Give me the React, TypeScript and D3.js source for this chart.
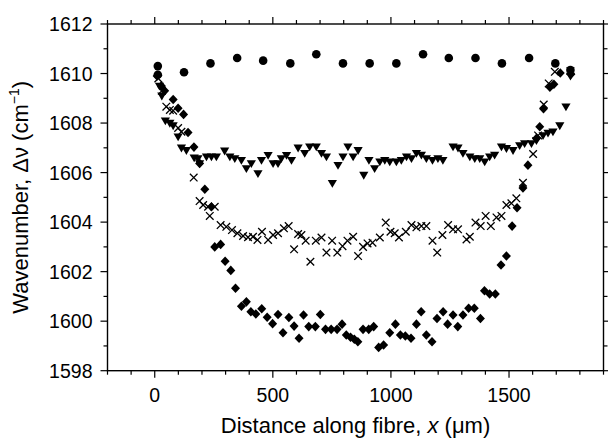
import React, { useEffect } from "react";
import * as d3 from "d3";

// ---- data (x in µm, Δν in cm^-1) ----
const circlePts: [number, number][] = [
  [13, 1610.3], [13, 1609.95], [124, 1610.05], [236, 1610.41], [349, 1610.63],
  [459, 1610.52], [574, 1610.41], [684, 1610.78], [797, 1610.41], [910, 1610.41],
  [1023, 1610.41], [1136, 1610.78], [1245, 1610.63], [1358, 1610.63], [1470, 1610.41],
  [1585, 1610.63], [1696, 1610.41], [1760, 1610.14],
];

const trianglePts: [number, number][] = [
  [20, 1609.5], [30, 1609.1], [45, 1608.1], [64, 1608.0], [78, 1607.9], [99, 1607.45],
  [113, 1607.0], [134, 1606.9], [167, 1606.6], [183, 1606.57], [190, 1606.37], [219, 1606.64],
  [240, 1606.64], [261, 1606.64], [296, 1606.88], [318, 1606.64], [339, 1606.57], [367, 1606.5],
  [388, 1606.17], [409, 1606.37], [437, 1605.97], [452, 1606.5], [480, 1606.7], [501, 1606.37],
  [522, 1606.37], [536, 1606.57], [558, 1606.7], [579, 1606.5], [607, 1607.0], [635, 1606.78],
  [656, 1607.05], [684, 1607.05], [706, 1606.78], [727, 1606.64], [752, 1605.57], [776, 1606.3],
  [797, 1606.64], [818, 1607.05], [840, 1606.64], [861, 1606.9], [885, 1605.9], [907, 1606.5],
  [931, 1606.17], [953, 1606.44], [974, 1606.5], [995, 1606.44], [1023, 1606.44], [1044, 1606.5],
  [1066, 1606.64], [1087, 1606.57], [1108, 1606.78], [1129, 1606.71], [1150, 1606.57], [1176, 1606.5],
  [1199, 1606.57], [1220, 1606.5], [1263, 1607.05], [1284, 1607.0], [1305, 1606.78], [1334, 1606.64],
  [1355, 1606.57], [1376, 1606.57], [1397, 1606.44], [1418, 1606.64], [1439, 1606.71], [1468, 1607.05],
  [1489, 1606.98], [1517, 1606.9], [1545, 1607.1], [1566, 1607.18], [1595, 1607.18], [1616, 1607.3],
  [1644, 1607.5], [1665, 1607.6], [1686, 1607.65], [1715, 1607.9], [1741, 1608.66], [1760, 1609.9],
];

const crossPts: [number, number][] = [
  [15, 1609.8], [30, 1609.3], [49, 1608.66], [64, 1608.53], [78, 1608.5], [99, 1607.8],
  [113, 1607.65], [165, 1605.8], [190, 1604.85], [205, 1604.69], [226, 1604.62], [233, 1604.25],
  [254, 1604.62], [279, 1603.88], [303, 1603.81], [327, 1603.68], [350, 1603.55], [374, 1603.44],
  [395, 1603.39], [416, 1603.41], [435, 1603.28], [454, 1603.61], [480, 1603.28], [501, 1603.48],
  [522, 1603.55], [547, 1603.75], [567, 1603.84], [590, 1602.9], [607, 1603.52], [621, 1603.48],
  [639, 1603.25], [659, 1602.4], [682, 1603.25], [706, 1603.38], [727, 1602.77], [751, 1603.25],
  [773, 1602.77], [795, 1603.03], [816, 1603.25], [840, 1603.41], [861, 1602.63], [882, 1603.0],
  [901, 1603.14], [922, 1603.17], [953, 1603.38], [978, 1603.98], [998, 1603.61], [1016, 1603.55],
  [1034, 1603.38], [1063, 1603.61], [1087, 1603.88], [1108, 1603.79], [1129, 1603.84], [1150, 1603.84],
  [1176, 1603.25], [1196, 1602.77], [1218, 1603.48], [1242, 1603.88], [1263, 1603.71], [1284, 1603.71],
  [1320, 1603.3], [1334, 1603.41], [1358, 1603.98], [1380, 1603.84], [1401, 1604.25], [1423, 1603.84],
  [1447, 1604.19], [1468, 1604.25], [1489, 1604.69], [1510, 1604.76], [1531, 1604.96], [1559, 1605.59],
  [1602, 1606.75], [1623, 1607.5], [1647, 1608.75], [1668, 1609.6], [1694, 1610.07], [1760, 1610.1],
];

const diamondPts: [number, number][] = [
  [10, 1609.9], [28, 1609.5], [42, 1609.3], [78, 1608.95], [99, 1608.6], [122, 1608.35],
  [141, 1607.62], [166, 1607.03], [190, 1606.37], [212, 1605.33], [240, 1604.62], [254, 1603.0],
  [279, 1603.1], [298, 1602.42], [322, 1602.05], [342, 1601.33], [367, 1600.6], [388, 1600.78],
  [407, 1600.38], [428, 1600.29], [453, 1600.5], [476, 1600.16], [499, 1599.9], [522, 1600.27],
  [543, 1599.53], [568, 1600.15], [590, 1599.8], [611, 1599.31], [630, 1600.25], [652, 1599.78],
  [680, 1599.78], [701, 1600.27], [723, 1599.67], [747, 1599.67], [772, 1599.67], [793, 1599.88],
  [811, 1599.44], [829, 1599.35], [845, 1599.27], [860, 1599.17], [882, 1599.67], [906, 1599.67],
  [927, 1599.78], [948, 1598.94], [969, 1599.04], [995, 1599.53], [1019, 1599.88], [1040, 1599.44],
  [1061, 1599.4], [1085, 1599.31], [1108, 1599.88], [1128, 1600.38], [1150, 1599.44], [1174, 1599.17],
  [1195, 1600.11], [1221, 1600.38], [1240, 1599.88], [1263, 1600.25], [1283, 1599.78], [1305, 1600.25],
  [1329, 1600.52], [1353, 1600.52], [1379, 1600.11], [1396, 1601.23], [1418, 1601.1], [1442, 1601.1],
  [1466, 1602.27], [1489, 1602.63], [1513, 1603.84], [1534, 1604.58], [1559, 1605.38], [1580, 1606.3],
  [1616, 1607.38], [1630, 1607.85], [1646, 1608.58], [1673, 1609.45], [1690, 1609.57], [1717, 1610.02],
  [1762, 1609.97],
];

const xDomain: [number, number] = [-200, 1900];
const yDomain: [number, number] = [1598, 1612];
const xTickLabels = [0, 500, 1000, 1500];
const yTickLabels = [1598, 1600, 1602, 1604, 1606, 1608, 1610, 1612];

const W = 608, H = 438;
const L = 107.5, R = 603.5, T = 24, B = 370.7;
const FONT = "'Liberation Sans', Arial, Helvetica, sans-serif";

export default function App() {
  useEffect(() => {
    document.body.style.margin = "0";
  }, []);
  const x = d3.scaleLinear().domain(xDomain).range([L, R]);
  const y = d3.scaleLinear().domain(yDomain).range([B, T]);

  const xMinor = d3.range(xDomain[0], xDomain[1] + 1, 100);
  const yMinor = d3.range(yDomain[0], yDomain[1] + 0.5, 1);
  const isXMajor = (v: number) => v % 500 === 0;
  const isYMajor = (v: number) => v % 2 === 0;
  const MJ = 7, MN = 4;

  const tri = "M-4.6,-3.2L4.6,-3.2L0,4.6Z";
  const dia = "M0,-4.8L4.5,0L0,4.8L-4.5,0Z";

  return (
    <svg width={W} height={H} style={{ position: "absolute", left: 0, top: 0, background: "#fff" }}>
      <rect width={W} height={H} fill="#fff" />
      {/* frame */}
      <rect x={L} y={T} width={R - L} height={B - T} fill="none" stroke="#000" strokeWidth={1.4} />
      {/* x ticks bottom + top */}
      {xMinor.map((v) => {
        const len = isXMajor(v) ? MJ : MN;
        return (
          <g key={"xt" + v} stroke="#000" strokeWidth={1.2}>
            <line x1={x(v)} x2={x(v)} y1={B} y2={B + len} />
            <line x1={x(v)} x2={x(v)} y1={T} y2={T - len} />
          </g>
        );
      })}
      {/* y ticks left + right */}
      {yMinor.map((v) => {
        const len = isYMajor(v) ? MJ : MN;
        return (
          <g key={"yt" + v} stroke="#000" strokeWidth={1.2}>
            <line x1={L} x2={L - len} y1={y(v)} y2={y(v)} />
            <line x1={R} x2={R + len} y1={y(v)} y2={y(v)} />
          </g>
        );
      })}
      {xTickLabels.map((v) => (
        <text key={"xl" + v} x={x(v)} y={401.5} textAnchor="middle" fontFamily={FONT} fontSize={19.5} fill="#000">
          {v}
        </text>
      ))}
      {yTickLabels.map((v) => (
        <text key={"yl" + v} x={92.5} y={y(v) + 7} textAnchor="end" fontFamily={FONT} fontSize={19.5} fill="#000">
          {v}
        </text>
      ))}
      {/* axis titles */}
      <text x={(L + R) / 2} y={433} textAnchor="middle" fontFamily={FONT} fontSize={22} fill="#000">
        Distance along fibre, <tspan fontStyle="italic">x</tspan> (μm)
      </text>
      <text
        transform={`translate(28,${(T + B) / 2}) rotate(-90)`}
        textAnchor="middle"
        fontFamily={FONT}
        fontSize={22}
        fill="#000"
      >
        Wavenumber, Δν (cm
        <tspan fontSize={14} dy={-9}>−1</tspan>
        <tspan dy={9}>)</tspan>
      </text>
      {/* series */}
      <g fill="#000">
        {circlePts.map(([a, b], i) => (
          <circle key={"c" + i} cx={x(a)} cy={y(b)} r={4.3} />
        ))}
        {trianglePts.map(([a, b], i) => (
          <path key={"t" + i} d={tri} transform={`translate(${x(a)},${y(b)})`} />
        ))}
        {diamondPts.map(([a, b], i) => (
          <path key={"d" + i} d={dia} transform={`translate(${x(a)},${y(b)})`} />
        ))}
      </g>
      <g stroke="#000" strokeWidth={1.3}>
        {crossPts.map(([a, b], i) => {
          const cx = x(a), cy = y(b), s = 3.8;
          return (
            <path key={"x" + i} d={`M${cx - s},${cy - s}L${cx + s},${cy + s}M${cx - s},${cy + s}L${cx + s},${cy - s}`} />
          );
        })}
      </g>
    </svg>
  );
}
